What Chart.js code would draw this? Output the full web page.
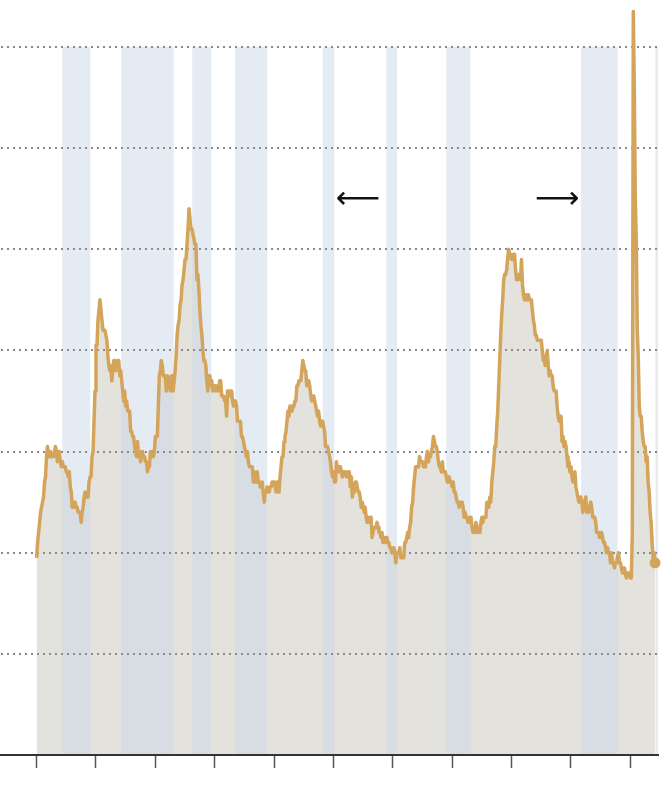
<!DOCTYPE html>
<html>
<head>
<meta charset="utf-8">
<script src="https://cdn.jsdelivr.net/npm/chart.js@4/dist/chart.umd.min.js"></script>
<style>
  html, body { margin: 0; padding: 0; background: #fff; }
  #wrap { width: 670px; height: 798px; position: relative; }
</style>
</head>
<body>
<div id="wrap"><canvas id="lineChart"></canvas></div>
<script>
// Monthly unemployment rate (%), one row per year starting Jan 1970
const startYear = 1970;
const rates = [
  [3.9, 4.2, 4.4, 4.6, 4.8, 4.9, 5.0, 5.1, 5.4, 5.5, 5.9, 6.1],
  [5.9, 5.9, 6.0, 5.9, 5.9, 5.9, 6.0, 6.1, 6.0, 5.8, 6.0, 6.0],
  [5.8, 5.7, 5.8, 5.7, 5.7, 5.7, 5.6, 5.6, 5.5, 5.6, 5.3, 5.2],
  [4.9, 5.0, 4.9, 5.0, 4.9, 4.9, 4.8, 4.8, 4.8, 4.6, 4.8, 4.9],
  [5.1, 5.2, 5.1, 5.1, 5.1, 5.4, 5.5, 5.5, 5.9, 6.0, 6.6, 7.2],
  [8.1, 8.1, 8.6, 8.8, 9.0, 8.8, 8.6, 8.4, 8.4, 8.4, 8.3, 8.2],
  [7.9, 7.7, 7.6, 7.7, 7.4, 7.6, 7.8, 7.8, 7.6, 7.7, 7.8, 7.8],
  [7.5, 7.6, 7.4, 7.2, 7.0, 7.2, 6.9, 7.0, 6.8, 6.8, 6.8, 6.4],
  [6.4, 6.3, 6.3, 6.1, 6.0, 5.9, 6.2, 5.9, 6.0, 5.8, 5.9, 6.0],
  [5.9, 5.9, 5.8, 5.8, 5.6, 5.7, 5.7, 6.0, 5.9, 6.0, 5.9, 6.0],
  [6.3, 6.3, 6.3, 6.9, 7.5, 7.6, 7.8, 7.7, 7.5, 7.5, 7.5, 7.2],
  [7.5, 7.4, 7.4, 7.2, 7.5, 7.5, 7.2, 7.4, 7.6, 7.9, 8.3, 8.5],
  [8.6, 8.9, 9.0, 9.3, 9.4, 9.6, 9.8, 9.8, 10.1, 10.4, 10.8, 10.8],
  [10.4, 10.4, 10.3, 10.2, 10.1, 10.1, 9.4, 9.5, 9.2, 8.8, 8.5, 8.3],
  [8.0, 7.8, 7.8, 7.7, 7.4, 7.2, 7.5, 7.5, 7.3, 7.4, 7.2, 7.3],
  [7.3, 7.2, 7.2, 7.3, 7.2, 7.4, 7.4, 7.1, 7.1, 7.1, 7.0, 7.0],
  [6.7, 7.2, 7.2, 7.1, 7.2, 7.2, 7.0, 6.9, 7.0, 7.0, 6.9, 6.6],
  [6.6, 6.6, 6.6, 6.3, 6.3, 6.2, 6.1, 6.0, 5.9, 6.0, 5.8, 5.7],
  [5.7, 5.7, 5.7, 5.4, 5.6, 5.4, 5.4, 5.6, 5.4, 5.4, 5.3, 5.3],
  [5.4, 5.2, 5.0, 5.2, 5.2, 5.3, 5.2, 5.2, 5.3, 5.3, 5.4, 5.4],
  [5.4, 5.3, 5.2, 5.4, 5.4, 5.2, 5.5, 5.7, 5.9, 5.9, 6.2, 6.3],
  [6.4, 6.6, 6.8, 6.7, 6.9, 6.9, 6.8, 6.9, 6.9, 7.0, 7.0, 7.3],
  [7.3, 7.4, 7.4, 7.4, 7.6, 7.8, 7.7, 7.6, 7.6, 7.3, 7.4, 7.4],
  [7.3, 7.1, 7.0, 7.1, 7.1, 7.0, 6.9, 6.8, 6.7, 6.8, 6.6, 6.5],
  [6.6, 6.6, 6.5, 6.4, 6.1, 6.1, 6.1, 6.0, 5.9, 5.8, 5.6, 5.5],
  [5.6, 5.4, 5.4, 5.8, 5.6, 5.6, 5.7, 5.7, 5.6, 5.5, 5.6, 5.6],
  [5.6, 5.5, 5.5, 5.6, 5.6, 5.3, 5.5, 5.1, 5.2, 5.2, 5.4, 5.4],
  [5.3, 5.2, 5.2, 5.1, 4.9, 5.0, 4.9, 4.8, 4.9, 4.7, 4.6, 4.7],
  [4.6, 4.6, 4.7, 4.3, 4.4, 4.5, 4.5, 4.5, 4.6, 4.5, 4.4, 4.4],
  [4.3, 4.4, 4.2, 4.3, 4.2, 4.3, 4.3, 4.2, 4.2, 4.1, 4.1, 4.0],
  [4.0, 4.1, 4.0, 3.8, 4.0, 4.0, 4.0, 4.1, 3.9, 3.9, 3.9, 3.9],
  [4.2, 4.2, 4.3, 4.4, 4.3, 4.5, 4.6, 4.9, 5.0, 5.3, 5.5, 5.7],
  [5.7, 5.7, 5.7, 5.9, 5.8, 5.8, 5.8, 5.7, 5.7, 5.7, 5.9, 6.0],
  [5.8, 5.9, 5.9, 6.0, 6.1, 6.3, 6.2, 6.1, 6.1, 6.0, 5.8, 5.7],
  [5.7, 5.6, 5.8, 5.6, 5.6, 5.6, 5.5, 5.4, 5.4, 5.5, 5.4, 5.4],
  [5.3, 5.4, 5.2, 5.2, 5.1, 5.0, 5.0, 4.9, 5.0, 5.0, 5.0, 4.9],
  [4.7, 4.8, 4.7, 4.7, 4.6, 4.6, 4.7, 4.7, 4.5, 4.4, 4.5, 4.4],
  [4.6, 4.5, 4.4, 4.5, 4.4, 4.6, 4.7, 4.6, 4.7, 4.7, 4.7, 5.0],
  [5.0, 4.9, 5.1, 5.0, 5.4, 5.6, 5.8, 6.1, 6.1, 6.5, 6.8, 7.3],
  [7.8, 8.3, 8.7, 9.0, 9.4, 9.5, 9.5, 9.6, 9.8, 10.0, 9.9, 9.9],
  [9.8, 9.8, 9.9, 9.9, 9.6, 9.4, 9.4, 9.5, 9.5, 9.4, 9.8, 9.3],
  [9.1, 9.0, 9.0, 9.1, 9.0, 9.1, 9.0, 9.0, 9.0, 8.8, 8.6, 8.5],
  [8.3, 8.3, 8.2, 8.2, 8.2, 8.2, 8.2, 8.0, 7.8, 7.8, 7.7, 7.9],
  [8.0, 7.7, 7.5, 7.6, 7.5, 7.5, 7.3, 7.2, 7.2, 7.2, 6.9, 6.7],
  [6.6, 6.7, 6.7, 6.2, 6.3, 6.1, 6.2, 6.1, 5.9, 5.7, 5.8, 5.6],
  [5.7, 5.5, 5.4, 5.4, 5.6, 5.3, 5.2, 5.1, 5.0, 5.0, 5.1, 5.0],
  [4.8, 4.9, 5.0, 5.1, 4.8, 4.9, 4.8, 4.9, 5.0, 4.9, 4.7, 4.7],
  [4.7, 4.6, 4.4, 4.4, 4.4, 4.3, 4.3, 4.4, 4.3, 4.2, 4.2, 4.1],
  [4.0, 4.1, 4.0, 4.0, 3.8, 4.0, 3.8, 3.8, 3.7, 3.8, 3.8, 3.9],
  [4.0, 3.8, 3.8, 3.7, 3.6, 3.6, 3.7, 3.6, 3.5, 3.6, 3.6, 3.6],
  [3.5, 3.5, 4.4, 14.7, 13.2, 11.0, 10.2, 8.4, 7.9, 6.9, 6.7, 6.7],
  [6.4, 6.2, 6.1, 6.1, 5.8, 5.9, 5.4, 5.2, 4.8, 4.6, 4.2, 3.9],
  [4.0, 3.8]
];

// Shaded periods (decimal years)
const bandStarts = [1972.16, 1977.13, 1983.11, 1986.73, 1994.09, 1999.45, 2004.50, 2015.85, 2022.12];
const bandEnds   = [1974.52, 1981.54, 1984.71, 1989.43, 1995.07, 2000.35, 2006.52, 2018.93, 2030];

// Axis ticks
const xTicks = [1970, 1975, 1980, 1985, 1990, 1995, 2000, 2005, 2010, 2015, 2020];
const yTicks = [2, 4, 6, 8, 10, 12, 14];

// Arrow annotations
const arrowLabels = ['⟵', '⟶'];
const arrowYears = [1997.05, 2013.85];
const arrowValue = 10.97;

const points = rates.flat().map((v, i) => ({ x: startYear + i / 12, y: v }));

// shaded bands, drawn after the area fill and before the grid and line
const bandPlugin = {
    id: 'bands',
    beforeDraw(chart) {
        const { ctx, chartArea, scales: { x } } = chart;
        ctx.save();
        ctx.fillStyle = 'rgba(203, 215, 231, 0.5)';
        bandStarts.forEach((s, i) => {
            const x1 = x.getPixelForValue(s);
            const x2 = x.getPixelForValue(Math.min(bandEnds[i], x.max));
            ctx.fillRect(x1, chartArea.top, x2 - x1, chartArea.bottom - chartArea.top);
        });
        ctx.restore();
    }
};

const arrowPlugin = {
    id: 'arrows',
    afterDraw(chart) {
        const { ctx, scales: { x, y } } = chart;
        ctx.save();
        ctx.font = '31px "DejaVu Sans"';
        ctx.fillStyle = '#111';
        ctx.textAlign = 'center';
        ctx.textBaseline = 'middle';
        arrowLabels.forEach((t, i) => {
            ctx.fillText(t, x.getPixelForValue(arrowYears[i]), y.getPixelForValue(arrowValue));
        });
        ctx.restore();
    }
};

const createChart = () => {
    const ctx = document.getElementById('lineChart').getContext('2d');
    const last = points.length - 1;

    new Chart(ctx, {
        type: 'line',
        data: {
            datasets: [{
                data: points,
                borderColor: '#d4a45a',
                backgroundColor: '#e3e2dc',
                borderWidth: 3.5,
                borderJoinStyle: 'round',
                tension: 0,
                fill: 'origin',
                clip: false,
                pointRadius: points.map((p, i) => i === last ? 5.5 : 0),
                pointBackgroundColor: '#d4a45a',
                pointBorderWidth: 0
            }]
        },
        options: {
            responsive: true,
            maintainAspectRatio: false,
            animation: false,
            layout: { autoPadding: false, padding: { left: 1, right: 12, top: 47, bottom: 30 } },
            plugins: {
                legend: { display: false },
                tooltip: { enabled: false },
                filler: { drawTime: 'beforeDraw' }
            },
            scales: {
                x: {
                    type: 'linear',
                    min: 1967,
                    max: 2022.33,
                    afterBuildTicks: scale => { scale.ticks = xTicks.map(v => ({ value: v })); },
                    ticks: { display: false },
                    grid: {
                        drawOnChartArea: false,
                        drawTicks: true,
                        tickLength: 13,
                        tickColor: '#555',
                        tickWidth: 1.5
                    },
                    border: { display: true, color: '#333', width: 2 }
                },
                y: {
                    min: 0,
                    max: 14,
                    afterBuildTicks: scale => { scale.ticks = yTicks.map(v => ({ value: v })); },
                    ticks: { display: false },
                    grid: {
                        drawTicks: false,
                        color: '#8a8a8a',
                        lineWidth: 2
                    },
                    border: { display: false, dash: [2, 4] }
                }
            }
        },
        plugins: [bandPlugin, arrowPlugin]
    });
};

document.addEventListener('DOMContentLoaded', function() {
    createChart();
});
</script>
</body>
</html>
